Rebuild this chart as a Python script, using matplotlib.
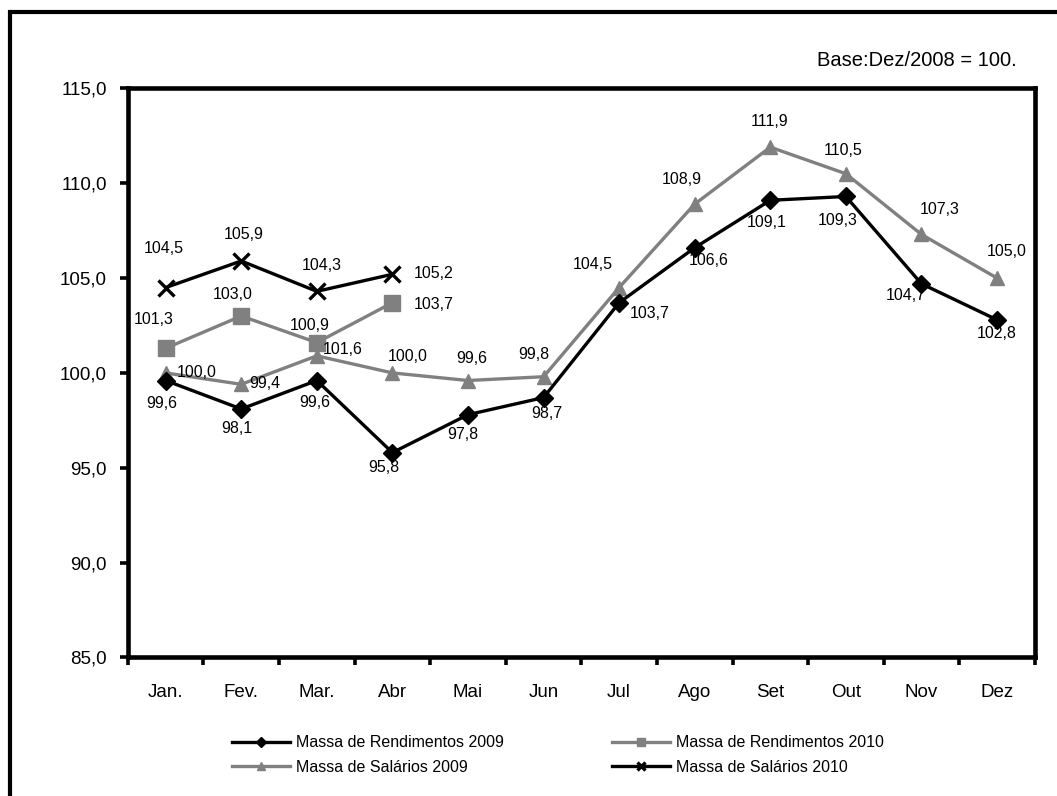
import matplotlib
matplotlib.use("Agg")
import matplotlib.pyplot as plt
from matplotlib.patches import Rectangle

plt.rcParams["font.family"] = ["Liberation Sans", "DejaVu Sans"]

months = ["Jan.", "Fev.", "Mar.", "Abr", "Mai", "Jun", "Jul", "Ago", "Set", "Out", "Nov", "Dez"]
rend_2009 = [99.6, 98.1, 99.6, 95.8, 97.8, 98.7, 103.7, 106.6, 109.1, 109.3, 104.7, 102.8]
rend_2010 = [101.3, 103.0, 101.6, 103.7]
sal_2009 = [100.0, 99.4, 100.9, 100.0, 99.6, 99.8, 104.5, 108.9, 111.9, 110.5, 107.3, 105.0]
sal_2010 = [104.5, 105.9, 104.3, 105.2]

# label offsets in pixels (dx, dy) for each point
off_rend_2009 = [(-4, -23), (-4, -20), (-2, -22), (-9, -15), (-5, -20), (3, -16),
                 (31, -11), (14, -13), (-4, -22), (-8, -24), (-16, -12), (0, -14)]
off_rend_2010 = [(-12, 29), (-9, 22), (26, -7), (41, -2)]
off_sal_2009 = [(31, 0), (24, 1), (-7, 30), (15, 16), (4, 22), (-10, 22),
                (-26, 23), (-13, 25), (-1, 26), (-3, 23), (18, 25), (10, 27)]
off_sal_2010 = [(-2, 39), (2, 26), (5, 26), (41, 1)]

GRAY = "#808080"

fig = plt.figure(figsize=(10.57, 7.96), dpi=100)
ax = fig.add_axes([0.121, 0.174, 0.858, 0.715])

x = list(range(len(months)))

ax.plot(x, rend_2009, color="black", lw=2.4, marker="D", ms=9,
        label="Massa de Rendimentos 2009", zorder=4)
ax.plot(x[:len(rend_2010)], rend_2010, color=GRAY, lw=2.4, marker="s", ms=11,
        label="Massa de Rendimentos 2010", zorder=3)
ax.plot(x, sal_2009, color=GRAY, lw=2.4, marker="^", ms=10.5,
        label="Massa de Salários 2009", zorder=3)
ax.plot(x[:len(sal_2010)], sal_2010, color="black", lw=2.4, marker="x", ms=11,
        mew=2.4, label="Massa de Salários 2010", zorder=4)


def fmt(v):
    return f"{v:.1f}".replace(".", ",")


for series, offs in [(rend_2009, off_rend_2009), (rend_2010, off_rend_2010),
                     (sal_2009, off_sal_2009), (sal_2010, off_sal_2010)]:
    for i, (v, o) in enumerate(zip(series, offs)):
        ax.annotate(fmt(v), (i, v), xytext=o, textcoords="offset pixels",
                    ha="center", va="center", fontsize=11.5, zorder=6)

yticks = [85, 90, 95, 100, 105, 110, 115]
ax.set_xlim(-0.5, 11.5)
ax.set_ylim(85, 115)
ax.set_yticks(yticks)
ax.set_yticklabels([fmt(v) for v in yticks], fontsize=13.5)

ax.set_xticks([i - 0.5 for i in range(13)])
ax.set_xticklabels([])
ax.set_xticks(x, minor=True)
ax.set_xticklabels(months, minor=True, fontsize=13.5)
ax.tick_params(axis="x", which="major", direction="out", length=6, width=2.6)
ax.tick_params(axis="x", which="minor", length=0, pad=19)
ax.tick_params(axis="y", direction="out", length=6, width=2.6, pad=9)

for s in ax.spines.values():
    s.set_linewidth(3.3)

fig.text(1017 / 1057, 1 - 60 / 796, "Base:Dez/2008 = 100.",
         ha="right", va="center", fontsize=14.5)

handles, labels = ax.get_legend_handles_labels()
order = [0, 2, 1, 3]
fig.legend([handles[i] for i in order], [labels[i] for i in order],
           loc="center", bbox_to_anchor=(0.528, 0.0515), ncol=2, frameon=False,
           fontsize=11.5, handlelength=3.6, handletextpad=0.4, columnspacing=6.8,
           markerscale=0.55, labelspacing=0.6)

# outer frame (right and bottom edges lie off the picture)
fig.patches.append(Rectangle((10 / 1057, -0.05), 1.1, 0.985 + 0.05,
                             transform=fig.transFigure, fill=False,
                             edgecolor="black", lw=3, zorder=0))

fig.savefig("out.png", dpi=100)
